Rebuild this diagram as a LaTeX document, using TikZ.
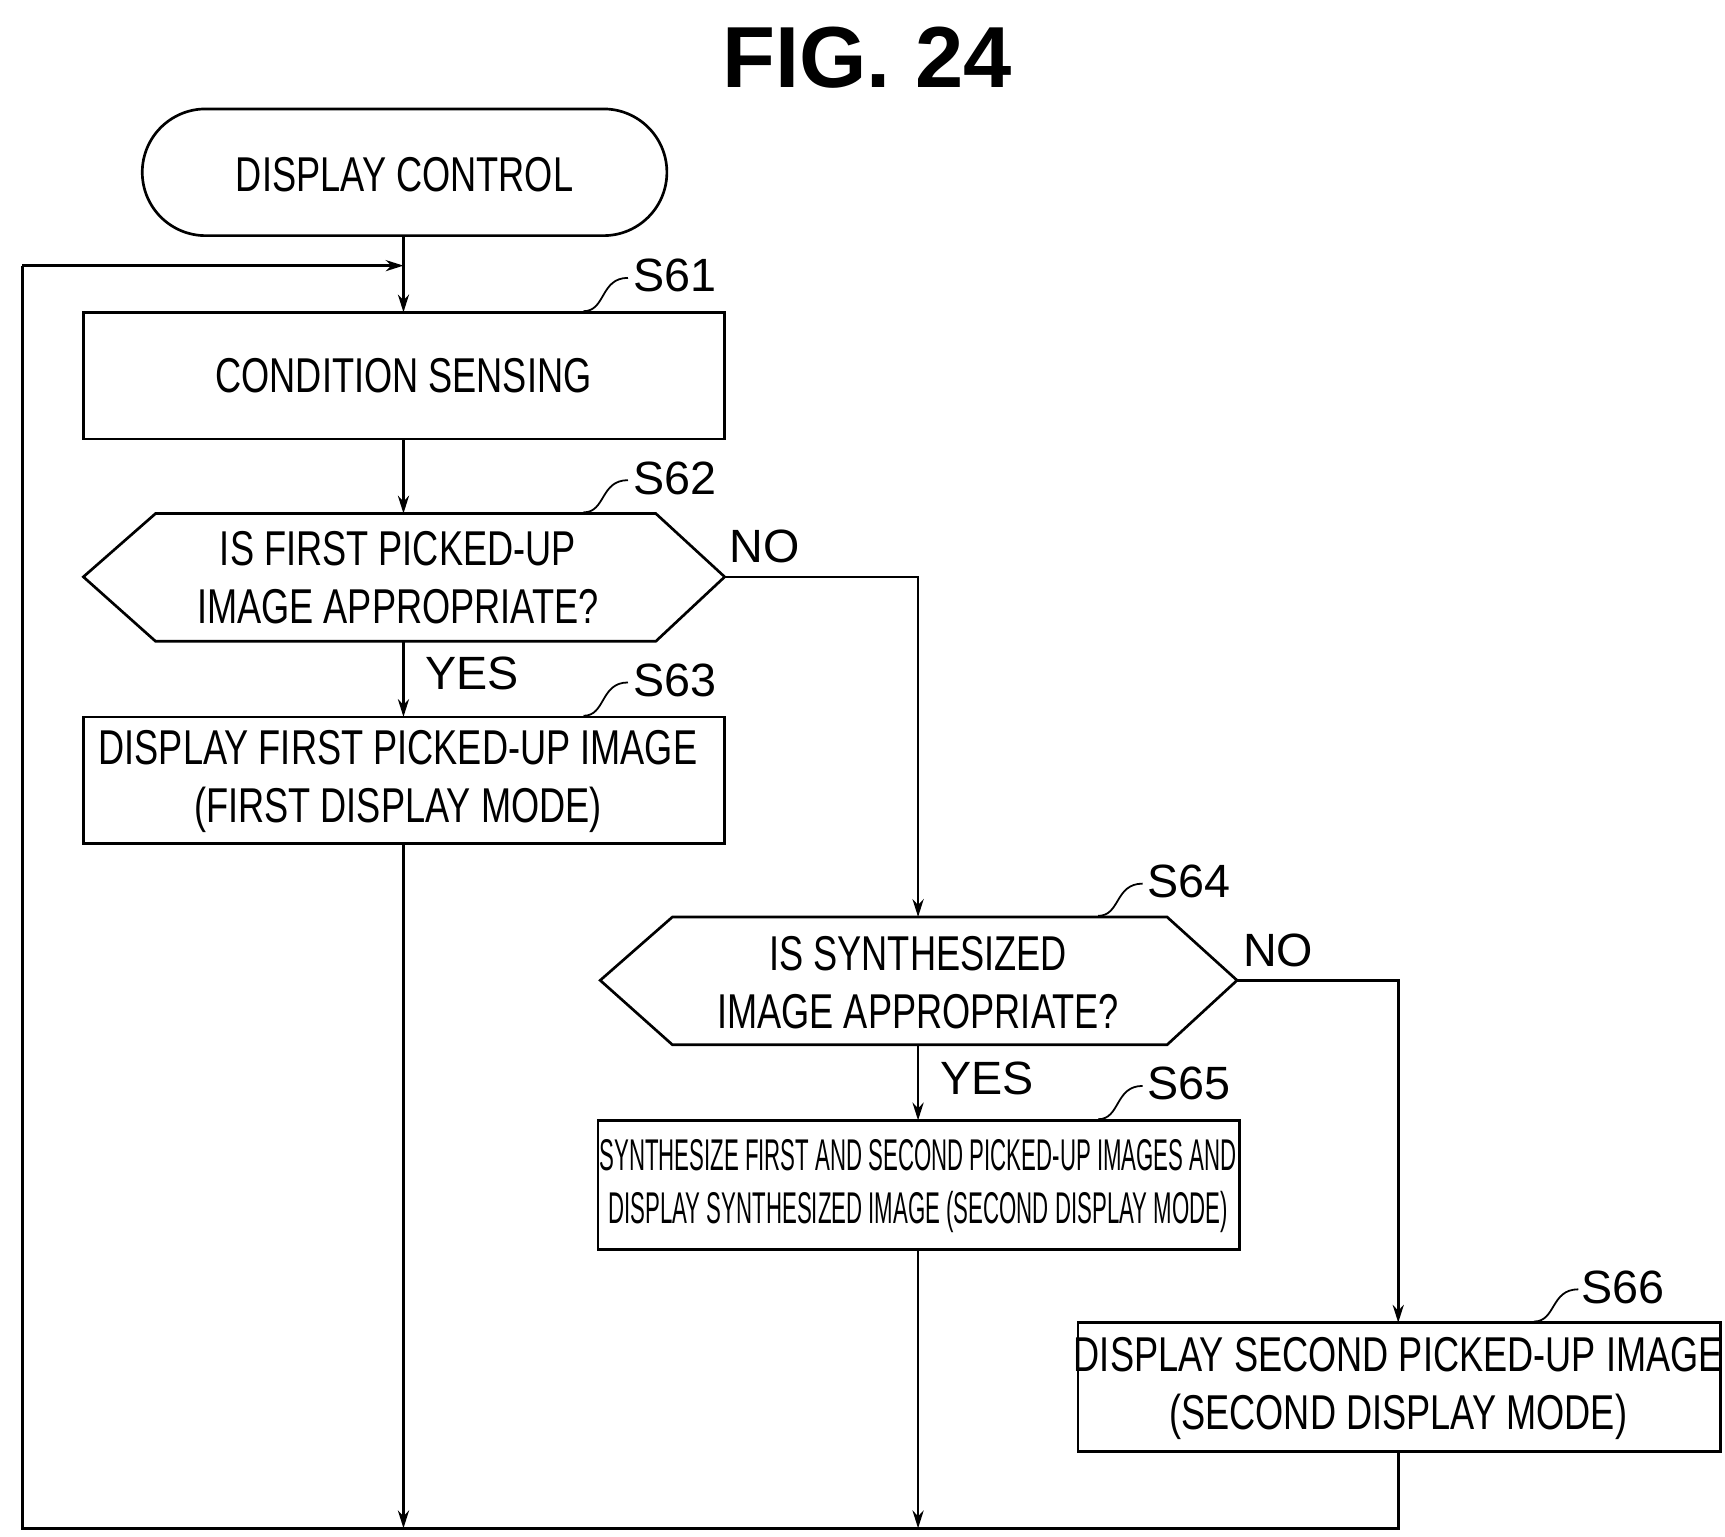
\documentclass[tikz,border=0pt]{standalone}
\usepackage{fontspec}
\setmainfont{Liberation Sans}
\newfontfamily\nar[FakeStretch=0.74]{Liberation Sans}
\newfontfamily\vnar[FakeStretch=0.5]{Liberation Sans}
\usetikzlibrary{arrows.meta}
\begin{document}
\begin{tikzpicture}[x=1pt,y=-1pt,line width=2.4pt,
  txt/.style={font=\nar\fontsize{44}{52}\selectfont,align=center,inner sep=0},
  box/.style={draw,line width=2.4pt},
  arr/.style={-{Stealth[length=16pt,width=10pt]}},
  lab/.style={font=\fontsize{42}{48}\selectfont,inner sep=0},
  sq/.style={line width=1.6pt}]
\useasboundingbox (0,0) rectangle (1552,1382);
\node[font=\bfseries\fontsize{78}{90}\selectfont,inner sep=0] (title) at (780,52) {FIG. 24};
% start
\draw[box,rounded corners=57pt] (128,98) rectangle (600,212);
\node[txt] (start) at (364,157) {DISPLAY CONTROL};
\coordinate (startb) at (363,212);
% S61
\draw[box] (75,281) rectangle (652,395);
\node[txt] (s61) at (363,338) {CONDITION SENSING};
\coordinate (s61t) at (363,281); \coordinate (s61b) at (363,395);
\node[lab] (l61) at (607,248) {S61};
\draw[sq] (525,280) .. controls (545,280) and (540,250) .. (565,250);
% S62
\draw[box] (75,519) -- (140,462) -- (590,462) -- (652,519) -- (590,577) -- (140,577) -- cycle;
\node[txt] (s62) at (358,520) {IS FIRST PICKED-UP\\IMAGE APPROPRIATE?};
\coordinate (s62t) at (363,462); \coordinate (s62b) at (363,577); \coordinate (s62r) at (652,519);
\node[lab] (l62) at (607,430) {S62};
\draw[sq] (525,461) .. controls (545,461) and (540,432) .. (565,432);
\node[lab] (no1) at (688,492) {NO};
\node[lab] (yes1) at (425,606) {YES};
% S63
\draw[box] (75,645) rectangle (652,759);
\node[txt] (s63) at (358,703) {DISPLAY FIRST PICKED-UP IMAGE\\(FIRST DISPLAY MODE)};
\coordinate (s63t) at (363,645); \coordinate (s63b) at (363,759);
\node[lab] (l63) at (607,612) {S63};
\draw[sq] (525,644) .. controls (545,644) and (540,614) .. (565,614);
% S64
\draw[box] (540,882) -- (605,825) -- (1050,825) -- (1113,882) -- (1050,940) -- (605,940) -- cycle;
\node[txt] (s64) at (826,884) {IS SYNTHESIZED\\IMAGE APPROPRIATE?};
\coordinate (s64t) at (826,825); \coordinate (s64b) at (826,940); \coordinate (s64r) at (1113,882);
\node[lab] (l64) at (1070,793) {S64};
\draw[sq] (988,824) .. controls (1008,824) and (1003,795) .. (1028,795);
\node[lab] (no2) at (1150,855) {NO};
\node[lab] (yes2) at (888,970) {YES};
% S65
\draw[box] (538,1008) rectangle (1115,1124);
\node[txt,font=\vnar\fontsize{40}{48}\selectfont] (s65) at (826,1067) {SYNTHESIZE FIRST AND SECOND PICKED-UP IMAGES AND\\DISPLAY SYNTHESIZED IMAGE (SECOND DISPLAY MODE)};
\coordinate (s65t) at (826,1008); \coordinate (s65b) at (826,1124);
\node[lab] (l65) at (1070,975) {S65};
\draw[sq] (988,1007) .. controls (1008,1007) and (1003,977) .. (1028,977);
% S66
\draw[box] (970,1190) rectangle (1548,1306);
\node[txt] (s66) at (1258,1249) {DISPLAY SECOND PICKED-UP IMAGE\\(SECOND DISPLAY MODE)};
\coordinate (s66t) at (1258,1190); \coordinate (s66b) at (1258,1306);
\node[lab] (l66) at (1460,1158) {S66};
\draw[sq] (1380,1189) .. controls (1400,1189) and (1395,1160) .. (1420,1160);
% connectors
\coordinate (m1) at (363,1375); \coordinate (m2) at (826,1375);
\coordinate (bl) at (20,1375); \coordinate (tl) at (20,239); \coordinate (j) at (363,239);
\draw[arr] (startb) -- (s61t);
\draw[arr] (tl) -- (j);
\draw[arr] (s61b) -- (s62t);
\draw[arr] (s62b) -- (s63t);
\draw[arr] (s62r) -| (s64t);
\draw[arr] (s64b) -- (s65t);
\draw[arr] (s64r) -| (s66t);
\draw[arr] (s63b) -- (m1);
\draw[arr] (s65b) -- (m2);
\draw (s66b) |- (bl) -- (tl);
\end{tikzpicture}
\end{document}
